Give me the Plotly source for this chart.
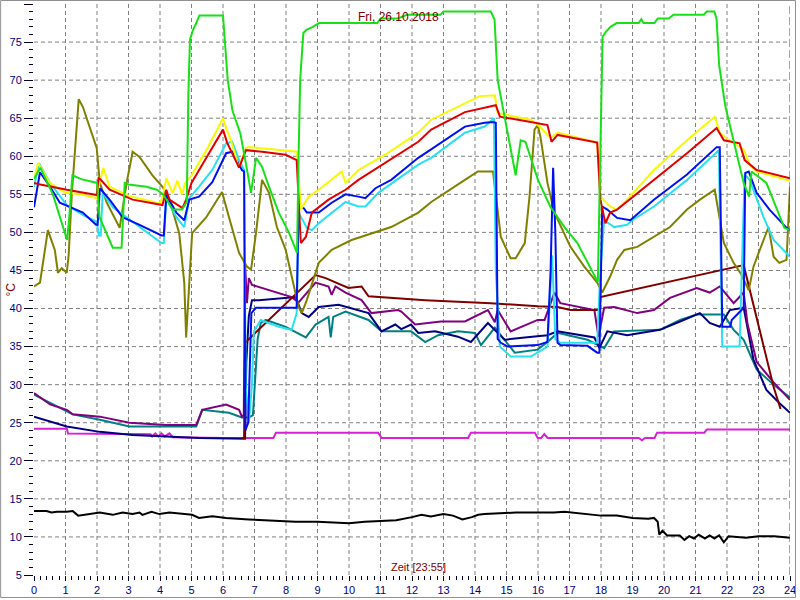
import plotly.graph_objects as go

# ---------------- data (hour, °C) ----------------
green = [(0.0,57),(0.2,58.5),(0.6,55),(1.05,49),(1.12,52),(1.22,57.5),(1.5,57),(2.0,56.5),(2.08,52),(2.5,48),(2.78,48),(2.88,56.5),(3.0,56.3),(3.57,56),(3.9,55.6),(4.1,55),(4.4,53),(4.7,53),(4.85,54),(4.9,68),(4.95,75.3),(5.05,76.6),(5.15,77.5),(5.25,78.5),(6.0,78.5),(6.05,76),(6.15,70),(6.3,66),(6.55,63),(6.75,58.5),(6.89,55.2),(7.05,59.8),(7.24,58.6),(7.46,56),(7.77,52.6),(8.09,50),(8.35,47.3),(8.4,60),(8.45,70),(8.55,76.2),(8.65,76.6),(8.85,77),(9.05,77.5),(10.9,77.5),(11.0,78.1),(11.55,78.1),(11.85,78.6),(12.9,78.6),(13.0,79),(14.5,79),(14.62,78),(14.72,70),(15.29,57.5),(15.45,62.1),(15.6,61.9),(16.0,56.9),(16.4,53.3),(16.84,50.7),(17.25,48.6),(17.9,43.5),(17.97,60),(18.05,75.7),(18.15,76.3),(18.3,77),(18.5,77.5),(19.2,77.5),(19.28,78),(19.35,77.5),(19.7,77.5),(19.8,78.1),(20.15,78.1),(20.3,78.6),(21.26,78.6),(21.36,79),(21.6,79),(21.67,78),(21.75,72),(21.95,66.5),(22.53,56.5),(22.7,54.7),(22.78,58),(23.25,56.5),(23.82,50.6),(24.0,50.3)]
yellow = [(0.0,57),(0.13,59.1),(0.5,56.5),(1.0,55.2),(1.5,55),(1.97,54.5),(2.05,56),(2.2,58.5),(2.4,56),(3.0,54.8),(4.0,53.8),(4.1,55),(4.2,57.1),(4.4,55.2),(4.55,56.8),(4.7,55),(4.8,56.5),(5.0,57.5),(5.5,61),(6.0,65),(6.1,63.7),(6.26,62),(6.5,58.5),(6.73,61.1),(6.82,61.2),(8.35,60.6),(8.47,53),(8.72,54.7),(9.04,55.6),(9.45,56.9),(9.77,58),(9.89,56.5),(10.3,58.2),(11.15,60.2),(12.2,63.1),(12.61,64.8),(13.68,67),(14.15,67.9),(14.63,68),(14.72,65.7),(15.26,65.2),(15.77,64.8),(16.05,63.9),(16.4,62.4),(16.62,63.1),(17.88,61.8),(17.98,54.7),(18.29,53.4),(18.51,53),(18.83,54.3),(19.68,58.2),(20.73,62.1),(21.61,65.2),(21.77,63.1),(22.09,62),(22.53,60.9),(22.72,58.9),(22.94,58),(23.89,56.9),(24.0,56.8)]
red = [(0.0,56.5),(0.2,56.3),(1.04,55.6),(1.99,54.9),(2.05,57.1),(2.1,57),(2.4,55.6),(3.13,54.3),(4.08,53.6),(4.2,55.6),(4.3,54.3),(4.71,53.2),(4.83,54.3),(5.0,56.5),(5.5,60),(6.0,63.5),(6.13,61.8),(6.51,58.5),(6.73,60.8),(7.24,60.6),(7.99,60.2),(8.34,59.5),(8.4,54.3),(8.47,48.6),(8.63,49.4),(8.82,52.6),(9.35,54.3),(9.89,55.6),(10.3,56.9),(11.15,59.1),(12.2,61.9),(12.61,63.5),(13.68,65.8),(14.66,66.7),(14.79,65.2),(15.77,64.5),(16.3,64.1),(16.43,61.9),(16.62,62.8),(17.88,61.8),(17.98,54.3),(18.14,51.2),(18.29,52.6),(18.51,53),(19.68,56.9),(20.73,60.4),(21.67,63.7),(21.9,62.1),(22.4,61.7),(22.56,59.5),(22.94,58.2),(24.0,57.1)]
blue = [(0.0,53.3),(0.19,57.9),(0.51,56),(0.82,53.9),(1.55,52.6),(1.97,51),(2.02,51),(2.09,55.8),(2.4,54.3),(2.81,52),(3.35,51),(4.05,49.6),(4.12,49.6),(4.2,54.9),(4.52,52.6),(4.77,51.6),(4.93,54.3),(5.24,54.7),(5.66,56.6),(6.1,60.4),(6.29,60.6),(6.6,58.2),(6.67,58),(6.71,24),(6.8,25),(6.9,39.4),(7.05,40.1),(8.34,40.1),(8.4,53.4),(8.56,53.2),(8.66,52.6),(9.04,52.6),(9.45,53.9),(9.89,55),(10.3,54.7),(10.52,54.5),(10.84,55.8),(11.34,56.9),(12.2,59.8),(12.5,60.6),(13.68,63.9),(14.31,64.4),(14.57,64.5),(14.66,64.4),(14.72,36),(14.82,35.5),(15.04,35),(15.99,35.2),(16.3,35.6),(16.4,45),(16.48,58.5),(16.55,50),(16.62,35.5),(16.71,35.2),(17.57,35.1),(17.88,34.2),(17.95,34.2),(18.04,53.4),(18.2,53),(18.51,51.9),(18.93,51.6),(19.68,54.3),(20.73,57.6),(21.67,61.2),(21.77,61.2),(21.85,37.6),(22.1,37.6),(22.15,38.5),(22.53,40.1),(22.58,57.8),(22.69,58),(22.94,55.2),(23.35,53),(23.89,50.6),(24.0,50.3)]
cyan = [(0.0,56),(0.16,59.1),(0.51,56.5),(1.04,53.6),(1.55,52.3),(1.99,51.4),(2.06,49.6),(2.12,49.6),(2.18,55.2),(2.5,53.3),(3.13,51.4),(3.57,50.1),(4.05,48.6),(4.12,48.6),(4.2,54.5),(4.52,52),(4.77,50.7),(4.93,54.5),(5.24,56),(5.66,58.2),(6.1,61.7),(6.29,61.9),(6.51,59.5),(6.67,58.2),(6.72,30),(6.82,25),(6.92,30),(6.98,37),(7.2,38.5),(7.77,37.6),(8.18,37.2),(8.34,39.4),(8.4,52.6),(8.66,50.6),(8.82,50.3),(9.04,51.2),(9.89,54),(10.3,53.4),(10.52,53.4),(10.93,55.2),(12.2,58.9),(12.61,59.8),(13.68,63.1),(14.31,63.9),(14.6,65),(14.66,45),(14.79,35),(15.13,33.7),(15.77,33.7),(16.3,35),(16.45,47),(16.55,36),(16.7,35.5),(17.88,35.5),(17.98,45),(18.1,51.6),(18.42,50.7),(18.83,51),(18.99,51.6),(19.68,53.4),(20.73,56.9),(21.74,60.8),(21.85,35),(22.4,35),(22.56,57.6),(22.72,56.9),(23.16,52),(23.48,49),(24.0,46.8)]
olive = [(0.0,42.9),(0.19,43.4),(0.44,50.3),(0.66,47.7),(0.76,44.7),(0.88,45.3),(1.04,44.7),(1.1,47),(1.2,55),(1.3,61.2),(1.36,64.4),(1.42,67.5),(1.55,66.5),(1.77,63.8),(1.99,61.1),(2.09,56.5),(2.31,53.9),(2.72,50.6),(2.94,56.5),(3.1,59.9),(3.13,60.6),(3.35,59.9),(3.76,57.5),(4.08,56),(4.3,54.3),(4.61,49.9),(4.77,43.4),(4.83,36.2),(4.93,43.4),(5.02,49.9),(5.47,52),(5.88,54.7),(5.97,55.3),(6.19,52),(6.51,47.3),(6.76,45.5),(6.89,45.1),(7.05,50),(7.24,56.9),(7.46,55.2),(7.71,50.7),(7.99,47.7),(8.25,42.9),(8.4,40.2),(8.5,39.4),(8.66,41.1),(9.04,46),(9.45,47.7),(10.08,49),(10.71,49.9),(11.34,50.7),(12.2,52.6),(12.61,54),(13.68,56.9),(14.09,58),(14.57,58),(14.66,54.7),(14.82,49.4),(15.13,46.6),(15.29,46.6),(15.58,48.6),(15.73,54.7),(15.89,63.5),(15.99,64.1),(16.08,62.5),(16.3,56.5),(16.52,52.6),(17.03,48.1),(17.47,45.5),(17.88,43.4),(18.04,42.1),(18.29,44.2),(18.51,46.4),(18.74,47.7),(19.15,48.1),(19.68,49.4),(20.19,50.7),(20.73,53),(21.14,54.3),(21.61,55.6),(21.9,48.6),(22.21,46),(22.45,44.5),(22.69,42.4),(22.84,45.5),(23.16,49),(23.32,50.7),(23.48,46.8),(23.66,46),(23.89,46.4),(24.0,56)]
maroon = [(6.6,23),(6.67,23),(6.7,35.5),(8.94,44.4),(9.26,44),(9.98,42.7),(10.4,42.9),(10.62,41.6),(12.42,41.1),(14.5,40.7),(15.99,40.3),(16.62,40.2),(17.03,39.8),(17.95,39.8),(17.98,41.5),(22.53,45.7),(23.48,29.7),(23.7,26.8)]
purple = [(0.0,28.9),(0.51,27.4),(1.04,26.7),(1.23,26.1),(2.09,25.8),(3.03,25),(4.2,24.7),(5.15,24.7),(5.34,26.7),(6.1,27.4),(6.51,26.7),(6.6,25.8),(6.66,26),(6.7,46),(6.76,40.7),(6.82,44),(6.92,43.1),(7.46,42.4),(8.18,41.5),(8.4,40.8),(8.94,43.4),(9.35,42.9),(9.45,41.8),(9.57,42.9),(9.89,42.1),(10.4,41.1),(10.71,39.4),(11.56,39.8),(11.66,39.6),(12.1,37.9),(12.92,38.3),(13.68,38.3),(14.41,39.8),(14.63,38.2),(14.72,39.8),(15.13,37),(15.99,38.5),(16.21,38.5),(16.52,42.1),(16.71,40.7),(17.79,39.8),(17.92,36.3),(18.1,40.1),(18.42,40.2),(19.15,39.4),(19.68,39.8),(20.19,41.4),(21.04,42.7),(21.45,42.1),(21.77,42.9),(22.21,40.7),(22.53,42.1),(22.65,38),(22.94,33),(23.48,30.3),(24.0,28)]
navy = [(0.0,25.8),(1.04,24.5),(2.09,23.8),(3.13,23.4),(4.2,23.2),(5.24,23),(6.7,22.9),(6.74,33),(6.82,39),(6.92,41.1),(7.14,41.1),(8.31,41.5),(8.5,39.4),(8.72,38.9),(9.04,40.2),(9.67,40.5),(10.62,39.4),(11.03,37),(11.47,37.9),(11.66,37.3),(11.97,37.9),(12.2,36.8),(12.73,37),(13.46,36.3),(13.87,35.6),(14.41,38.1),(14.72,36.8),(14.94,35.9),(15.58,36.2),(16.3,36.5),(16.62,37),(17.79,36.2),(17.95,34.8),(18.2,37),(18.83,36.5),(19.87,37.2),(20.51,38.3),(21.14,39.4),(21.45,38.1),(21.77,37.6),(22.09,39.8),(22.53,40.1),(22.84,33.3),(23.25,29.3),(23.66,27.6),(24.0,26.3)]
teal = [(0.0,28.7),(0.51,27.6),(1.23,26.1),(2.09,25.4),(3.03,24.5),(5.15,24.5),(5.34,26.7),(6.19,26.3),(6.6,25.7),(6.82,25.7),(6.95,26),(7.1,36),(7.2,38.1),(7.36,38.5),(7.99,37.6),(8.63,36.2),(8.94,37.9),(9.35,38.9),(9.42,36.2),(9.5,38.9),(9.89,39.6),(10.62,38.5),(11.03,37),(11.97,37),(12.42,35.6),(12.83,36.5),(13.46,37),(14.0,36.8),(14.19,35.2),(14.63,37.5),(14.94,35.9),(15.26,34.2),(15.99,34.6),(16.3,35.6),(16.62,36.8),(17.57,35.9),(18.1,34.8),(18.42,37),(19.87,37.2),(20.51,38.5),(21.04,39.2),(21.9,39.2),(22.21,37.2),(22.53,35.9),(22.94,32),(23.48,30),(24.0,28.3)]
magenta = [(0.0,24.2),(1.04,24.2),(1.08,23.6),(3.7,23.5),(3.75,23.2),(3.85,23.6),(3.95,23.2),(4.05,23.6),(4.15,23.2),(4.3,23.6),(4.4,23.1),(6.0,23.0),(7.6,23.0),(7.68,23.7),(10.93,23.7),(11.03,23.0),(13.78,23.0),(13.87,23.7),(15.9,23.7),(15.99,23.0),(16.1,23.0),(16.2,23.5),(16.3,23.0),(19.2,23.0),(19.3,22.7),(19.4,23.0),(19.7,23.0),(19.78,23.7),(21.28,23.7),(21.36,24.1),(24.0,24.1)]
black = [(0.0,13.4),(0.4,13.4),(0.55,13.2),(0.73,13.3),(1.04,13.3),(1.23,13.4),(1.4,12.8),(1.77,13.0),(2.09,13.2),(2.5,12.9),(2.81,13.2),(3.13,13.0),(3.35,13.2),(3.44,12.9),(3.73,13.3),(3.98,13.0),(4.3,13.2),(5.02,12.9),(5.24,12.5),(5.66,12.7),(6.1,12.5),(6.82,12.3),(7.5,12.2),(8.3,12.0),(9.0,12.0),(9.5,11.9),(10.0,11.8),(10.5,12.0),(11.0,12.1),(11.5,12.2),(12.0,12.6),(12.3,12.9),(12.6,12.7),(13.0,13.0),(13.3,12.8),(13.6,12.3),(13.9,12.6),(14.1,12.9),(14.3,13.0),(14.7,13.1),(15.3,13.2),(16.0,13.2),(16.5,13.2),(16.84,13.3),(17.5,13.0),(18.0,12.8),(18.5,12.8),(19.0,12.5),(19.5,12.4),(19.68,12.5),(19.8,12.0),(19.85,10.3),(19.95,10.8),(20.1,10.2),(20.5,10.2),(20.65,9.6),(20.8,10.1),(20.95,9.8),(21.1,10.3),(21.3,9.8),(21.45,10.2),(21.6,9.8),(21.75,10.2),(21.9,9.3),(22.05,10.1),(22.6,9.9),(23.0,10.1),(23.5,10.1),(24.0,9.9)]

x_ticks = list(range(0, 25))
y_ticks = list(range(5, 81, 5))
title_text = "Fri, 26.10.2018"
xlabel_text = "Zeit [23:55]"
ylabel_text = "°C"

series = [
    ("black", black, "#000000"),
    ("magenta", magenta, "#d820d8"),
    ("teal", teal, "#008080"),
    ("navy", navy, "#000080"),
    ("purple", purple, "#800080"),
    ("maroon", maroon, "#800000"),
    ("olive", olive, "#808000"),
    ("cyan", cyan, "#28e0f0"),
    ("blue", blue, "#0010f0"),
    ("yellow", yellow, "#f8f800"),
    ("red", red, "#e00000"),
    ("green", green, "#18e018"),
]

W, H = 800, 600
ML, MR, MT, MB = 34, 7, 4, 24
PW, PH = W - ML - MR, H - MT - MB

fig = go.Figure()
for name, pts, col in series:
    fig.add_trace(go.Scatter(x=[p[0] for p in pts], y=[p[1] for p in pts], mode="lines",
                             name=name, line=dict(color=col, width=2), hoverinfo="skip"))

shapes = []
for h in x_ticks[1:-1]:
    shapes.append(dict(type="line", xref="x", yref="paper", x0=h, x1=h, y0=0, y1=1,
                       line=dict(color="#808080", width=1, dash="4px,3px"), layer="below"))
for v in y_ticks[1:-1]:
    shapes.append(dict(type="line", xref="paper", yref="y", x0=0, x1=1, y0=v, y1=v,
                       line=dict(color="#808080", width=1, dash="4px,3px"), layer="below"))
# current time marker
shapes.append(dict(type="line", xref="x", yref="paper", x0=24, x1=24, y0=0, y1=1,
                   line=dict(color="#008000", width=1, dash="8px,3px"), layer="above"))
# outer frame
shapes.append(dict(type="rect", xref="paper", yref="paper",
                   x0=(0.5 - ML) / PW, x1=(W - 1.5 - ML) / PW,
                   y0=1 - (H - 1.5 - MT) / PH, y1=1 + (MT - 0.5) / PH,
                   line=dict(color="#909090", width=1), fillcolor="rgba(0,0,0,0)"))

font_family = "Liberation Sans, Arial, sans-serif"
fig.update_layout(
    width=W, height=H,
    margin=dict(l=ML, r=MR, t=MT, b=MB, pad=0),
    paper_bgcolor="white", plot_bgcolor="white",
    showlegend=False,
    hovermode=False,
    shapes=shapes,
    font=dict(family=font_family, size=11, color="#000080"),
    xaxis=dict(range=[0, 24], tickvals=x_ticks, ticktext=[str(t) for t in x_ticks],
               showgrid=False, zeroline=False, showline=False,
               ticks="outside", ticklen=5, tickcolor="#000030", tickwidth=1,
               minor=dict(dtick=0.2, tick0=0, ticks="outside", ticklen=4, tickcolor="#000030", showgrid=False),
               tickfont=dict(size=11, color="#000080", family=font_family)),
    yaxis=dict(range=[5, 80], tickvals=y_ticks, ticktext=[str(t) for t in y_ticks],
               showgrid=False, zeroline=False, showline=False,
               ticks="outside", ticklen=9, tickcolor="#000030", tickwidth=1,
               minor=dict(dtick=1, tick0=0, ticks="outside", ticklen=4, tickcolor="#000030", showgrid=False),
               tickfont=dict(size=11, color="#000080", family=font_family)),
    annotations=[
        dict(text=title_text, xref="paper", yref="paper", x=(400 - ML) / PW, y=1 - (17 - MT) / PH,
             showarrow=False, xanchor="center", yanchor="middle",
             font=dict(size=12, color="#800000", family=font_family)),
        dict(text=xlabel_text, xref="paper", yref="paper", x=(420 - ML) / PW, y=1 - (568 - MT) / PH,
             showarrow=False, xanchor="center", yanchor="middle",
             font=dict(size=11, color="#800000", family=font_family)),
        dict(text=ylabel_text, xref="paper", yref="paper", x=(10 - ML) / PW, y=1 - (290 - MT) / PH,
             showarrow=False, xanchor="center", yanchor="middle", textangle=-90,
             font=dict(size=12, color="#800000", family=font_family)),
    ],
)

fig.write_html("out.html", config={"displayModeBar": False, "staticPlot": True},
               post_script="document.body.style.margin='0';document.body.style.overflow='hidden';")
